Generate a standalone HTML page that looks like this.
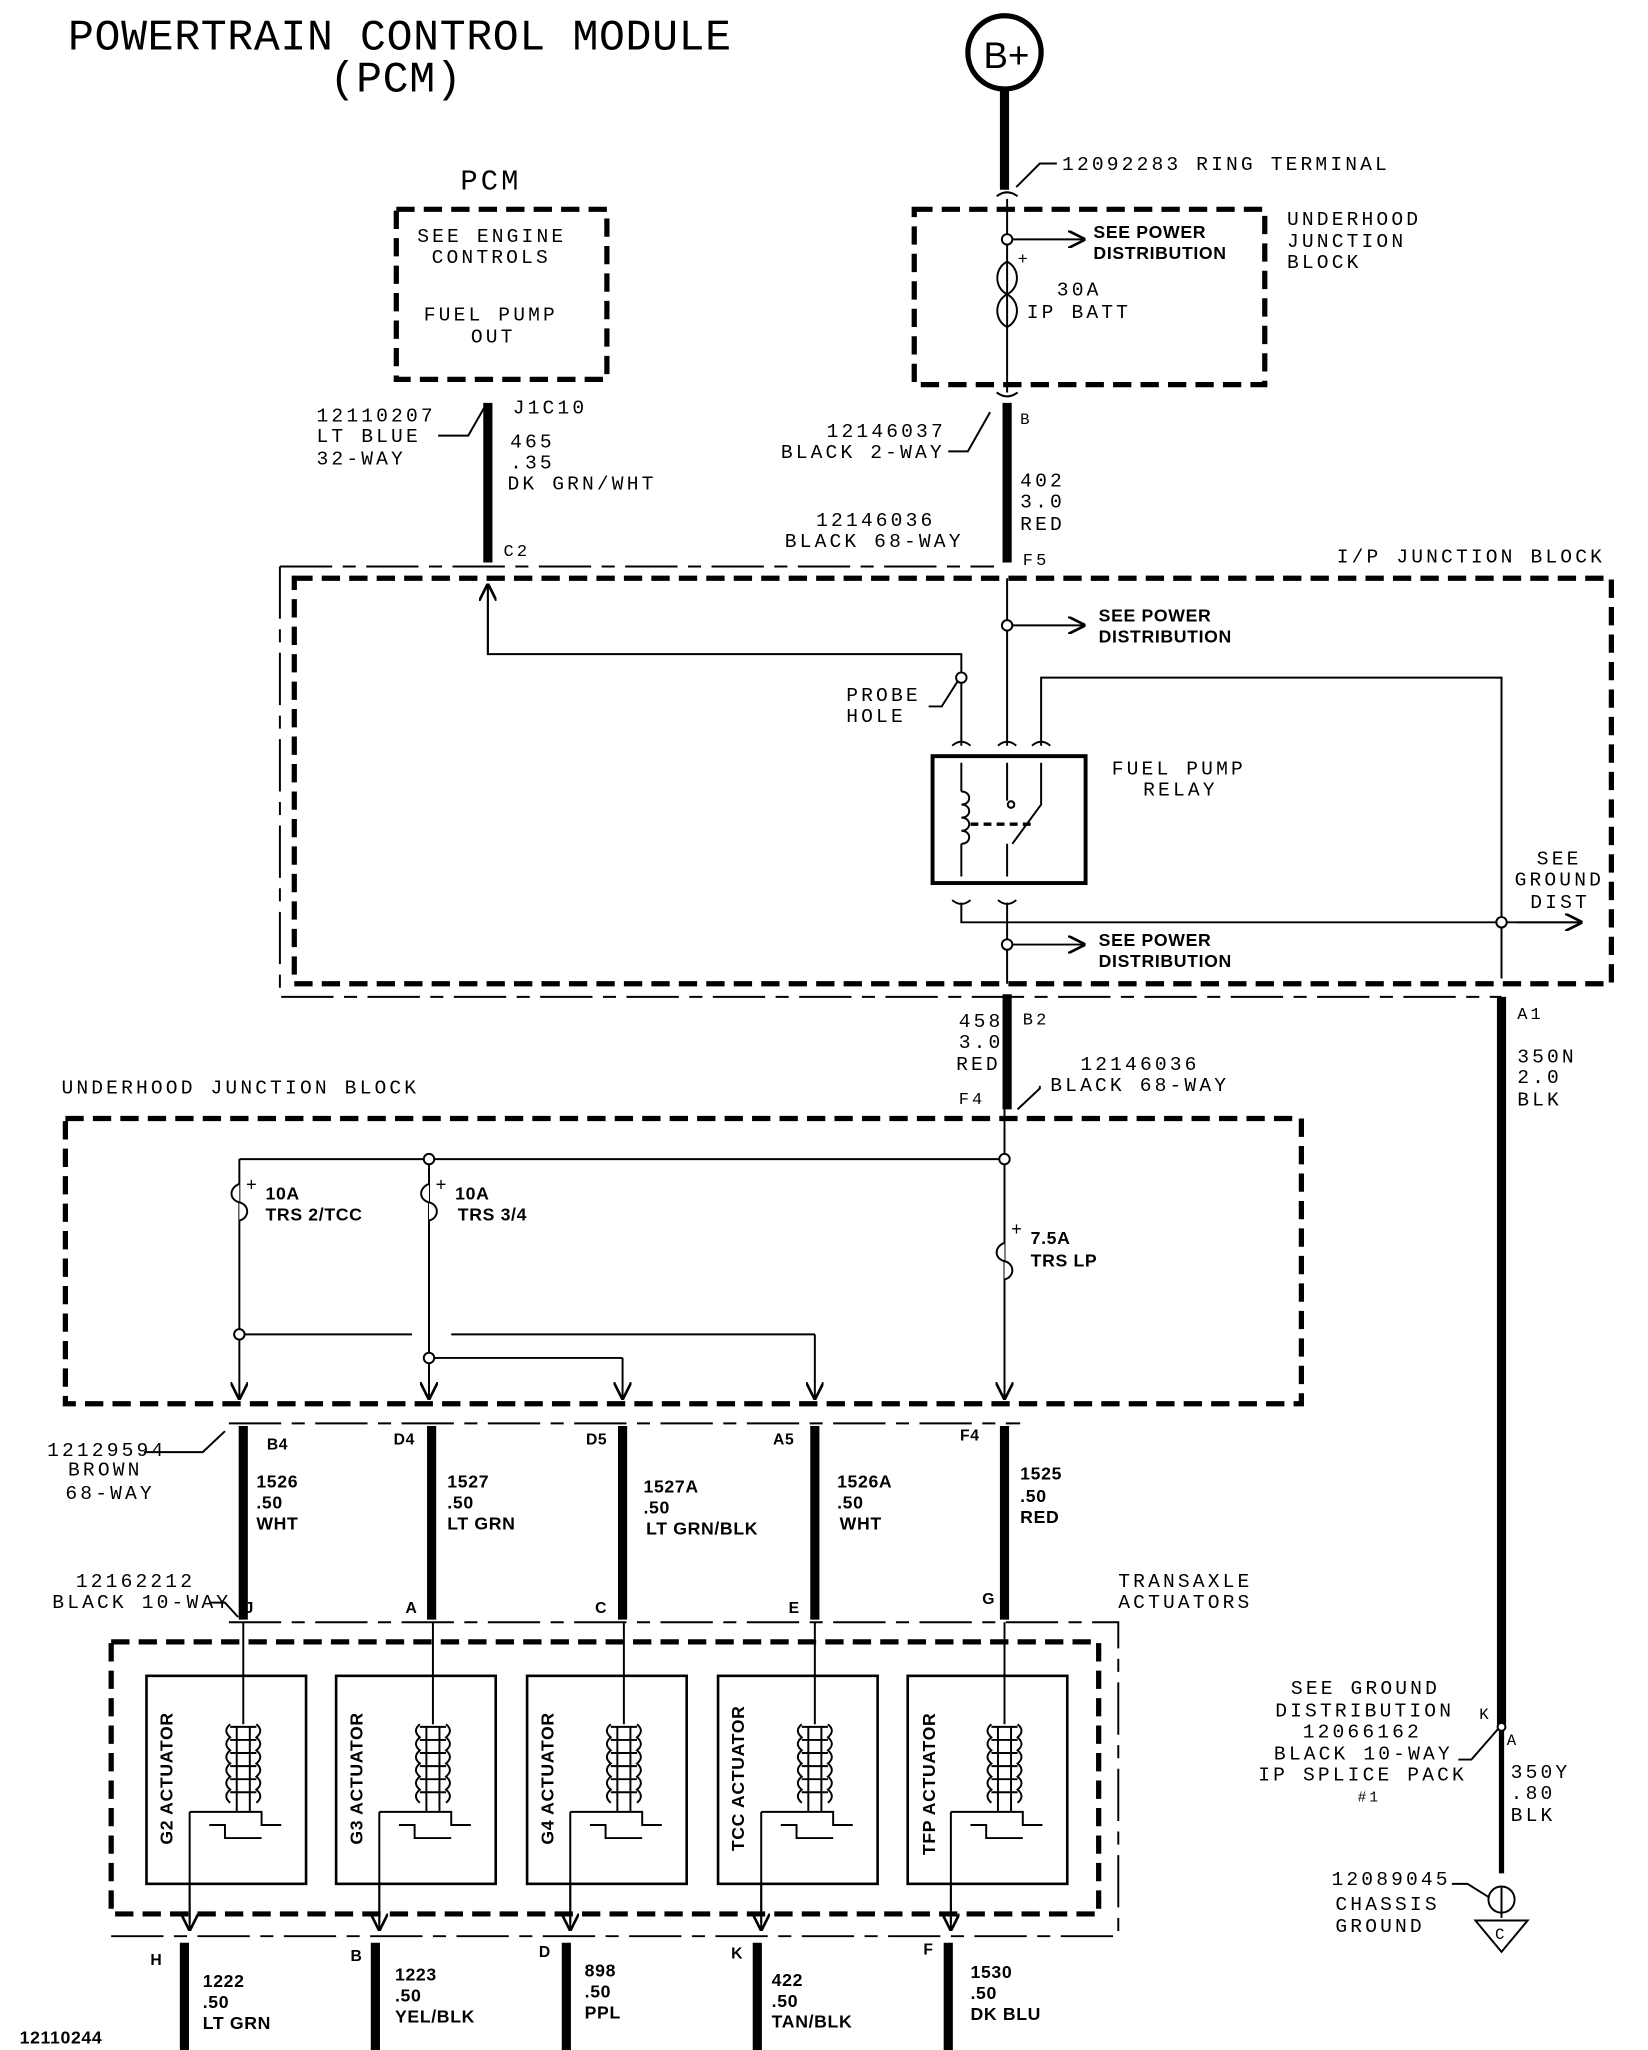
<!DOCTYPE html>
<html><head><meta charset="utf-8"><style>
html,body{margin:0;padding:0;background:#fff}
svg{display:block}
text{font-family:"Liberation Mono",monospace;font-size:15px;letter-spacing:2.4px;fill:#000}
.b{font-family:"Liberation Sans",sans-serif;font-weight:bold;font-size:13.5px;letter-spacing:0.5px}
.t{font-size:33px;letter-spacing:0.5px}
</style></head><body>
<svg width="1648" height="2050" viewBox="0 0 1260 1567" preserveAspectRatio="none" xmlns="http://www.w3.org/2000/svg">
<defs><marker id="a" viewBox="0 0 10 10" refX="10" refY="5" markerWidth="9" markerHeight="9" orient="auto"><path d="M0,0 L10,5 L0,10" fill="none" stroke="#000" stroke-width="1.5"/></marker></defs>
<text x="52" y="38" class="t">POWERTRAIN CONTROL MODULE</text>
<text x="252" y="70" class="t">(PCM)</text>

<g fill="none" stroke="#000" stroke-width="1.5">
<circle cx="768" cy="40" r="28" stroke-width="4"/>
<line x1="768" y1="68" x2="768" y2="145" stroke-width="7"/>
<path d="M777,143 L795,125 L808,125"/>
<rect x="699" y="160" width="268" height="134" stroke-width="4" stroke-dasharray="14,7"/>
<line x1="770" y1="152" x2="770" y2="300"/>
<circle cx="770" cy="183" r="4" fill="#fff"/>
<line x1="774" y1="183" x2="830" y2="183" marker-end="url(#a)"/>
<path d="M770,200 c-10,5 -10,20 0,25 c10,-5 10,-20 0,-25 z M770,225 c-10,5 -10,20 0,25 c10,-5 10,-20 0,-25 z"/>
<path d="M762,150 q8,-6 16,0 M762,300 q8,6 16,0"/>
<line x1="770" y1="308" x2="770" y2="430" stroke-width="7"/>
<path d="M725,345 L740,345 L757,315"/>
<rect x="303" y="160" width="161" height="130" stroke-width="4" stroke-dasharray="14,7"/>
<line x1="373" y1="308" x2="373" y2="430" stroke-width="7"/>
<path d="M335,333 L358,333 L370,312"/>
<path d="M214,433 L760,433" stroke-dasharray="40,8,10,8"/>
<path d="M214,433 L214,762 L1148,762" stroke-dasharray="40,8,10,8"/>
<rect x="225" y="442" width="1007" height="310" stroke-width="4" stroke-dasharray="14,7"/>
<path d="M373,448 L373,500 L735,500 L735,570"/>
<line x1="373" y1="500" x2="373" y2="446" marker-end="url(#a)"/>
<circle cx="735" cy="518" r="4" fill="#fff"/>
<path d="M710,540 L720,540 L732,521"/>
<line x1="770" y1="442" x2="770" y2="570"/>
<circle cx="770" cy="478" r="4" fill="#fff"/>
<line x1="774" y1="478" x2="830" y2="478" marker-end="url(#a)"/>
<path d="M796,570 L796,518 L1148,518 L1148,748"/>
<path d="M728,570 q7,-6 14,0 M763,570 q7,-6 14,0 M789,570 q7,-6 14,0"/>
<rect x="713" y="578" width="117" height="97" stroke-width="3"/>
<path d="M735,583 L735,605 M735,605 c8,0 8,10 0,10 c8,0 8,10 0,10 c8,0 8,10 0,10 c8,0 8,10 0,10 M735,645 L735,670"/>
<path d="M770,583 L770,612 M770,645 L770,670 M796,583 L796,615 L774,645"/>
<circle cx="773" cy="615" r="2.5"/>
<line x1="742" y1="630" x2="790" y2="630" stroke-dasharray="6,4" stroke-width="2.5"/>
<path d="M728,688 q7,6 14,0 M763,688 q7,6 14,0"/>
<path d="M735,690 L735,705 L1210,705" />
<line x1="1160" y1="705" x2="1210" y2="705" marker-end="url(#a)"/>
<circle cx="1148" cy="705" r="4" fill="#fff"/>
<line x1="770" y1="690" x2="770" y2="752"/>
<circle cx="770" cy="722" r="4" fill="#fff"/>
<line x1="774" y1="722" x2="830" y2="722" marker-end="url(#a)"/>
<line x1="770" y1="760" x2="770" y2="848" stroke-width="7"/>
<path d="M795,830 L795,832 L778,848"/>
<line x1="1148" y1="762" x2="1148" y2="1318" stroke-width="7"/>
<line x1="1148" y1="1318" x2="1148" y2="1432"  stroke-width="4"/>
<circle cx="1148" cy="1320" r="3" fill="#fff"/>
<path d="M1115,1345 L1125,1345 L1145,1322"/>
<circle cx="1148" cy="1452" r="10"/>
<path d="M1148,1442 L1148,1466 M1128,1468 L1168,1468 L1148,1492 Z"/>
<path d="M1110,1440 L1122,1440 L1138,1450"/>
<rect x="50" y="855" width="945" height="218" stroke-width="4" stroke-dasharray="14,7"/>
<line x1="768" y1="848" x2="768" y2="1070" marker-end="url(#a)"/>
<path d="M183,886 L768,886"/>
<circle cx="768" cy="886" r="4" fill="#fff"/>
<circle cx="328" cy="886" r="4" fill="#fff"/>
<line x1="183" y1="886" x2="183" y2="1070" marker-end="url(#a)"/>
<line x1="328" y1="890" x2="328" y2="1070" marker-end="url(#a)"/>
<path d="M183,905 c-8,3 -8,12 0,14 c8,2 8,12 0,14 M328,905 c-8,3 -8,12 0,14 c8,2 8,12 0,14 M768,950 c-8,3 -8,12 0,14 c8,2 8,12 0,14" fill="#fff"/>
<circle cx="183" cy="1020" r="4" fill="#fff"/>
<path d="M187,1020 L315,1020 M345,1020 L623,1020"/>
<line x1="623" y1="1020" x2="623" y2="1070" marker-end="url(#a)"/>
<circle cx="328" cy="1038" r="4" fill="#fff"/>
<path d="M332,1038 L476,1038"/>
<line x1="476" y1="1038" x2="476" y2="1070" marker-end="url(#a)"/>
<path d="M175,1088 L780,1088" stroke-dasharray="40,8,10,8"/>
<path d="M110,1110 L155,1110 L172,1094"/>
<g stroke-width="7">
<line x1="186" y1="1090" x2="186" y2="1238"/><line x1="330" y1="1090" x2="330" y2="1238"/>
<line x1="476" y1="1090" x2="476" y2="1238"/><line x1="623" y1="1090" x2="623" y2="1238"/>
<line x1="768" y1="1090" x2="768" y2="1238"/>
</g>
<path d="M175,1240 L855,1240 L855,1480 L85,1480" stroke-dasharray="40,8,10,8"/>
<path d="M160,1225 L172,1225 L182,1236"/>
<rect x="85" y="1255" width="755" height="208" stroke-width="4" stroke-dasharray="14,7"/>
</g>
<g fill="none" stroke="#000" stroke-width="1.5">
<g transform="translate(0,0)"><rect x="112" y="1281" width="122" height="159" stroke-width="2"/><line x1="186" y1="1240" x2="186" y2="1318"/><path d="M176,1320 h20 M176,1330 h20 M176,1340 h20 M176,1350 h20 M176,1360 h20 M176,1370 h20"/><path d="M176,1318 q-6,5 0,10 q-6,5 0,10 q-6,5 0,10 q-6,5 0,10 q-6,5 0,10 q-6,5 0,10 M196,1318 q6,5 0,10 q6,5 0,10 q6,5 0,10 q6,5 0,10 q6,5 0,10 q6,5 0,10" /><path d="M181,1320 V1385 M191,1320 V1385 M145,1385 H200 V1395 H215 M160,1395 H172 V1405 H200 M145,1385 V1470"/><line x1="145" y1="1440" x2="145" y2="1476" marker-end="url(#a)"/></g>
<g transform="translate(145,0)"><rect x="112" y="1281" width="122" height="159" stroke-width="2"/><line x1="186" y1="1240" x2="186" y2="1318"/><path d="M176,1320 h20 M176,1330 h20 M176,1340 h20 M176,1350 h20 M176,1360 h20 M176,1370 h20"/><path d="M176,1318 q-6,5 0,10 q-6,5 0,10 q-6,5 0,10 q-6,5 0,10 q-6,5 0,10 q-6,5 0,10 M196,1318 q6,5 0,10 q6,5 0,10 q6,5 0,10 q6,5 0,10 q6,5 0,10 q6,5 0,10" /><path d="M181,1320 V1385 M191,1320 V1385 M145,1385 H200 V1395 H215 M160,1395 H172 V1405 H200 M145,1385 V1470"/><line x1="145" y1="1440" x2="145" y2="1476" marker-end="url(#a)"/></g>
<g transform="translate(291,0)"><rect x="112" y="1281" width="122" height="159" stroke-width="2"/><line x1="186" y1="1240" x2="186" y2="1318"/><path d="M176,1320 h20 M176,1330 h20 M176,1340 h20 M176,1350 h20 M176,1360 h20 M176,1370 h20"/><path d="M176,1318 q-6,5 0,10 q-6,5 0,10 q-6,5 0,10 q-6,5 0,10 q-6,5 0,10 q-6,5 0,10 M196,1318 q6,5 0,10 q6,5 0,10 q6,5 0,10 q6,5 0,10 q6,5 0,10 q6,5 0,10" /><path d="M181,1320 V1385 M191,1320 V1385 M145,1385 H200 V1395 H215 M160,1395 H172 V1405 H200 M145,1385 V1470"/><line x1="145" y1="1440" x2="145" y2="1476" marker-end="url(#a)"/></g>
<g transform="translate(437,0)"><rect x="112" y="1281" width="122" height="159" stroke-width="2"/><line x1="186" y1="1240" x2="186" y2="1318"/><path d="M176,1320 h20 M176,1330 h20 M176,1340 h20 M176,1350 h20 M176,1360 h20 M176,1370 h20"/><path d="M176,1318 q-6,5 0,10 q-6,5 0,10 q-6,5 0,10 q-6,5 0,10 q-6,5 0,10 q-6,5 0,10 M196,1318 q6,5 0,10 q6,5 0,10 q6,5 0,10 q6,5 0,10 q6,5 0,10 q6,5 0,10" /><path d="M181,1320 V1385 M191,1320 V1385 M145,1385 H200 V1395 H215 M160,1395 H172 V1405 H200 M145,1385 V1470"/><line x1="145" y1="1440" x2="145" y2="1476" marker-end="url(#a)"/></g>
<g transform="translate(582,0)"><rect x="112" y="1281" width="122" height="159" stroke-width="2"/><line x1="186" y1="1240" x2="186" y2="1318"/><path d="M176,1320 h20 M176,1330 h20 M176,1340 h20 M176,1350 h20 M176,1360 h20 M176,1370 h20"/><path d="M176,1318 q-6,5 0,10 q-6,5 0,10 q-6,5 0,10 q-6,5 0,10 q-6,5 0,10 q-6,5 0,10 M196,1318 q6,5 0,10 q6,5 0,10 q6,5 0,10 q6,5 0,10 q6,5 0,10 q6,5 0,10" /><path d="M181,1320 V1385 M191,1320 V1385 M145,1385 H200 V1395 H215 M160,1395 H172 V1405 H200 M145,1385 V1470"/><line x1="145" y1="1440" x2="145" y2="1476" marker-end="url(#a)"/></g>
<g stroke-width="7">
<line x1="141" y1="1485" x2="141" y2="1580"/><line x1="287" y1="1485" x2="287" y2="1580"/>
<line x1="433" y1="1485" x2="433" y2="1580"/><line x1="579" y1="1485" x2="579" y2="1580"/>
<line x1="725" y1="1485" x2="725" y2="1580"/>
</g>
</g>

<text x="752" y="52" style="font-family:'Liberation Sans',sans-serif;font-size:28px;letter-spacing:0">B+</text>
<text x="812" y="130">12092283 RING TERMINAL</text>
<text x="836" y="182" class="b">SEE POWER</text><text x="836" y="198" class="b">DISTRIBUTION</text>
<text x="778" y="202" style="font-size:13px">+</text>
<text x="808" y="226">30A</text><text x="785" y="243">IP BATT</text>
<text x="984" y="172">UNDERHOOD</text><text x="984" y="189">JUNCTION</text><text x="984" y="205">BLOCK</text>
<text x="780" y="324" style="font-size:12px">B</text>
<text x="632" y="334">12146037</text><text x="597" y="350">BLACK 2-WAY</text>
<text x="780" y="372">402</text><text x="780" y="388">3.0</text><text x="780" y="405">RED</text>
<text x="624" y="402">12146036</text><text x="600" y="418">BLACK 68-WAY</text>
<text x="782" y="432" style="font-size:13px">F5</text>
<text x="352" y="145" style="font-size:22px">PCM</text>
<text x="319" y="185">SEE ENGINE</text><text x="330" y="201">CONTROLS</text>
<text x="324" y="245">FUEL PUMP</text><text x="360" y="262">OUT</text>
<text x="392" y="316">J1C10</text>
<text x="242" y="322">12110207</text><text x="242" y="338">LT BLUE</text><text x="242" y="355">32-WAY</text>
<text x="390" y="342">465</text><text x="390" y="358">.35</text><text x="388" y="374">DK GRN/WHT</text>
<text x="385" y="425" style="font-size:13px">C2</text>
<text x="1022" y="430">I/P JUNCTION BLOCK</text>
<text x="840" y="475" class="b">SEE POWER</text><text x="840" y="491" class="b">DISTRIBUTION</text>
<text x="647" y="536">PROBE</text><text x="647" y="552">HOLE</text>
<text x="850" y="592">FUEL PUMP</text><text x="874" y="608">RELAY</text>
<text x="1175" y="661">SEE</text><text x="1158" y="677">GROUND</text><text x="1170" y="694">DIST</text>
<text x="840" y="723" class="b">SEE POWER</text><text x="840" y="739" class="b">DISTRIBUTION</text>
<text x="782" y="783" style="font-size:13px">B2</text>
<text x="733" y="785">458</text><text x="733" y="801">3.0</text><text x="731" y="818">RED</text>
<text x="826" y="818">12146036</text><text x="803" y="834">BLACK 68-WAY</text>
<text x="733" y="844" style="font-size:13px">F4</text>
<text x="1160" y="779" style="font-size:13px">A1</text>
<text x="1160" y="812">350N</text><text x="1160" y="828">2.0</text><text x="1160" y="845">BLK</text>
<text x="47" y="836">UNDERHOOD JUNCTION BLOCK</text>
<text x="188" y="910" style="font-size:14px">+</text><text x="203" y="917" class="b">10A</text><text x="203" y="933" class="b">TRS 2/TCC</text>
<text x="333" y="910" style="font-size:14px">+</text><text x="348" y="917" class="b">10A</text><text x="350" y="933" class="b">TRS 3/4</text>
<text x="773" y="944" style="font-size:14px">+</text><text x="788" y="951" class="b">7.5A</text><text x="788" y="968" class="b">TRS LP</text>
<text x="204" y="1108" class="b" style="font-size:12px">B4</text><text x="301" y="1104" class="b" style="font-size:12px">D4</text>
<text x="448" y="1104" class="b" style="font-size:12px">D5</text><text x="591" y="1104" class="b" style="font-size:12px">A5</text>
<text x="734" y="1101" class="b" style="font-size:12px">F4</text>
<text x="36" y="1113">12129594</text><text x="52" y="1128">BROWN</text><text x="50" y="1146">68-WAY</text>
<text x="196" y="1137" class="b">1526</text><text x="196" y="1153" class="b">.50</text><text x="196" y="1169" class="b">WHT</text>
<text x="342" y="1137" class="b">1527</text><text x="342" y="1153" class="b">.50</text><text x="342" y="1169" class="b">LT GRN</text>
<text x="492" y="1141" class="b">1527A</text><text x="492" y="1157" class="b">.50</text><text x="494" y="1173" class="b">LT GRN/BLK</text>
<text x="640" y="1137" class="b">1526A</text><text x="640" y="1153" class="b">.50</text><text x="642" y="1169" class="b">WHT</text>
<text x="780" y="1131" class="b">1525</text><text x="780" y="1148" class="b">.50</text><text x="780" y="1164" class="b">RED</text>
<text x="58" y="1213">12162212</text><text x="40" y="1229">BLACK 10-WAY</text>
<text x="187" y="1233" class="b" style="font-size:12px">J</text><text x="310" y="1233" class="b" style="font-size:12px">A</text>
<text x="455" y="1233" class="b" style="font-size:12px">C</text><text x="603" y="1233" class="b" style="font-size:12px">E</text>
<text x="751" y="1226" class="b" style="font-size:12px">G</text>
<text x="855" y="1213">TRANSAXLE</text><text x="855" y="1229">ACTUATORS</text>
<text transform="translate(132,1410) rotate(-90)" class="b">G2 ACTUATOR</text>
<text transform="translate(277,1410) rotate(-90)" class="b">G3 ACTUATOR</text>
<text transform="translate(423,1410) rotate(-90)" class="b">G4 ACTUATOR</text>
<text transform="translate(569,1415) rotate(-90)" class="b">TCC ACTUATOR</text>
<text transform="translate(715,1418) rotate(-90)" class="b">TFP ACTUATOR</text>
<text x="987" y="1295">SEE GROUND</text><text x="975" y="1312">DISTRIBUTION</text>
<text x="996" y="1328">12066162</text><text x="974" y="1345">BLACK 10-WAY</text>
<text x="962" y="1361">IP SPLICE PACK</text><text x="1038" y="1377" style="font-size:11px">#1</text>
<text x="1131" y="1314" style="font-size:12px">K</text><text x="1152" y="1334" style="font-size:12px">A</text>
<text x="1155" y="1359">350Y</text><text x="1155" y="1375">.80</text><text x="1155" y="1392">BLK</text>
<text x="1018" y="1441">12089045</text><text x="1021" y="1460">CHASSIS</text><text x="1021" y="1477">GROUND</text>
<text x="1143" y="1482" style="font-size:12px">C</text>
<text x="115" y="1502" class="b" style="font-size:12px">H</text><text x="268" y="1499" class="b" style="font-size:12px">B</text>
<text x="412" y="1496" class="b" style="font-size:12px">D</text><text x="559" y="1497" class="b" style="font-size:12px">K</text>
<text x="706" y="1494" class="b" style="font-size:12px">F</text>
<text x="155" y="1519" class="b">1222</text><text x="155" y="1535" class="b">.50</text><text x="155" y="1551" class="b">LT GRN</text>
<text x="302" y="1514" class="b">1223</text><text x="302" y="1530" class="b">.50</text><text x="302" y="1546" class="b">YEL/BLK</text>
<text x="447" y="1511" class="b">898</text><text x="447" y="1527" class="b">.50</text><text x="447" y="1543" class="b">PPL</text>
<text x="590" y="1518" class="b">422</text><text x="590" y="1534" class="b">.50</text><text x="590" y="1550" class="b">TAN/BLK</text>
<text x="742" y="1512" class="b">1530</text><text x="742" y="1528" class="b">.50</text><text x="742" y="1544" class="b">DK BLU</text>
<text x="15" y="1562" class="b">12110244</text>
</svg>
</body></html>
